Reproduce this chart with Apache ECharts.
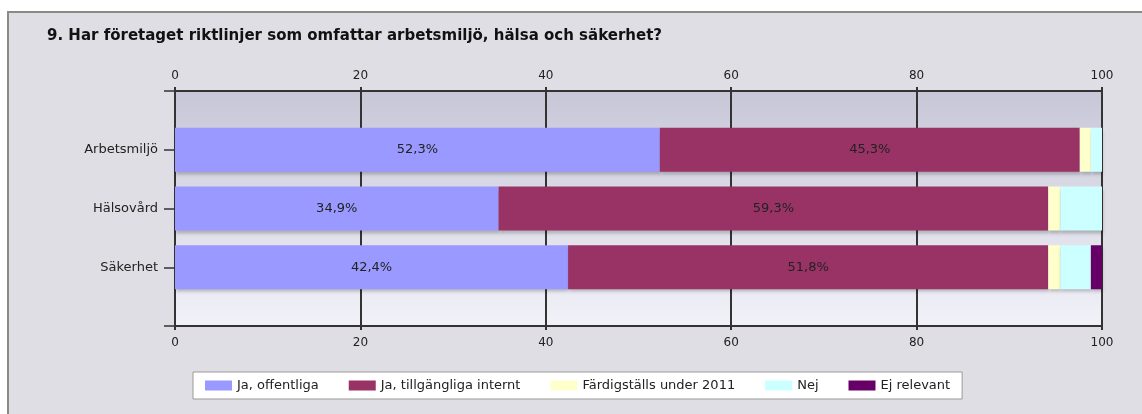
<!DOCTYPE html>
<html>
<head>
<meta charset="utf-8">
<script src="https://cdn.jsdelivr.net/npm/echarts@6/dist/echarts.min.js"></script>
<style>
  html, body { margin: 0; padding: 0; background: #fff; }
  #chart { width: 1142px; height: 414px; }
</style>
</head>
<body>
<div id="chart"></div>
<script>
// data
const categories = ['Arbetsmiljö', 'Hälsovård', 'Säkerhet']
const seriesNames = ['Ja, offentliga', 'Ja, tillgängliga internt', 'Färdigställs under 2011', 'Nej', 'Ej relevant']
const jaOffentliga = [52.3, 34.9, 42.4]
const jaInternt = [45.3, 59.3, 51.8]
const fardigstalls = [1.2, 1.3, 1.3]
const nej = [1.2, 4.5, 3.3]
const ejRelevant = [0, 0, 1.2]

const colors = ['#9999ff', '#993366', '#ffffcc', '#ccffff', '#660066']
const allValues = [jaOffentliga, jaInternt, fardigstalls, nej, ejRelevant]

// tomma kategorier i kanterna så att staplarna hamnar som i originalet
const yData = [''].concat(categories, [''])
const pad = arr => ['-'].concat(arr, ['-'])

const chart = echarts.init(document.getElementById('chart'))

const font = 'DejaVu Sans'

const series = allValues.map((vals, i) => ({
  name: seriesNames[i],
  type: 'bar',
  stack: 'total',
  barWidth: 44,
  data: pad(vals),
  itemStyle: {
    color: colors[i],
    shadowColor: 'rgba(0,0,0,0.22)',
    shadowBlur: 3,
    shadowOffsetX: 1,
    shadowOffsetY: 3
  },
  label: {
    show: i < 2,
    position: 'inside',
    fontFamily: font,
    fontSize: 13,
    color: '#222',
    formatter: p => p.value.toFixed(1).replace('.', ',') + '%'
  }
}))

const xAxisBase = {
  type: 'value',
  min: 0,
  max: 100,
  interval: 20,
  axisLine: { show: true, lineStyle: { color: '#333', width: 2 } },
  axisTick: { show: true, length: 4, lineStyle: { color: '#333', width: 2 } },
  axisLabel: { fontFamily: font, fontSize: 12, color: '#222' }
}

const option = {
  animation: false,
  title: {
    text: '9. Har företaget riktlinjer som omfattar arbetsmiljö, hälsa och säkerhet?',
    left: 42,
    top: 24,
    textStyle: { fontFamily: font, fontSize: 15, fontWeight: 'bold', color: '#111' }
  },
  graphic: [{
    type: 'rect',
    silent: true,
    z: -10,
    shape: { x: 8, y: 12, width: 1150, height: 420 },
    style: { fill: '#dfdee4', stroke: '#8a8c84', lineWidth: 2 }
  }],
  legend: {
    left: 193,
    top: 372,
    padding: [7, 12],
    itemGap: 30,
    itemWidth: 27,
    itemHeight: 10,
    icon: 'rect',
    backgroundColor: '#fff',
    borderColor: '#999',
    borderWidth: 1,
    textStyle: { fontFamily: font, fontSize: 13, color: '#222' },
    data: seriesNames
  },
  grid: {
    left: 175,
    right: 40,
    top: 91,
    bottom: 88,
    show: true,
    borderWidth: 0,
    backgroundColor: new echarts.graphic.LinearGradient(0, 0, 0, 1, [
      { offset: 0, color: '#c8c7d8' },
      { offset: 1, color: '#f1f1f8' }
    ])
  },
  xAxis: [
    Object.assign({}, xAxisBase, {
      position: 'bottom',
      axisLabel: Object.assign({}, xAxisBase.axisLabel, { margin: 11 }),
      splitLine: { show: true, lineStyle: { color: '#333', width: 2 } }
    }),
    Object.assign({}, xAxisBase, {
      position: 'top',
      axisLabel: Object.assign({}, xAxisBase.axisLabel, { margin: 9 }),
      splitLine: { show: false }
    })
  ],
  yAxis: {
    type: 'category',
    inverse: true,
    boundaryGap: false,
    data: yData,
    axisLine: { show: true, lineStyle: { color: '#333', width: 2 } },
    axisTick: { show: true, length: 11, lineStyle: { color: '#333', width: 1.5 } },
    axisLabel: { margin: 17, interval: 0, fontFamily: font, fontSize: 13, color: '#222' },
    splitLine: { show: false }
  },
  series: series
}

chart.setOption(option)
</script>
</body>
</html>
